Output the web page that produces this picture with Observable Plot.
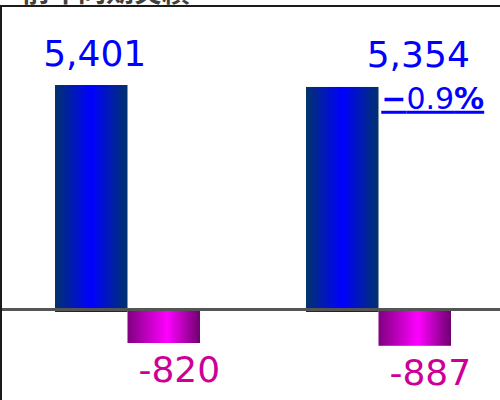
<!DOCTYPE html>
<html><head><meta charset="utf-8">
<script src="https://cdn.jsdelivr.net/npm/d3@7"></script>
<script src="https://cdn.jsdelivr.net/npm/@observablehq/plot@0.6"></script>
<style>
body{margin:0;background:#fff;font-family:"DejaVu Sans",sans-serif;}
#title{height:5px;overflow:hidden;position:relative;width:500px;}
#title span{position:absolute;left:22px;top:-24px;font:bold 28px "Noto Sans CJK JP";color:#404040;white-space:nowrap;line-height:1;}
#chart{border-top:2px solid #1a1a1a;border-left:2px solid #1a1a1a;width:498px;height:393px;overflow:hidden;}
#chart svg{display:block;max-width:none !important;}
</style></head><body>
<div id="title"><span>前年同期実績</span></div>
<div id="chart"></div>
<script>
const groups = ["前期", "当期"];
const values = [5401, 5354];
const changes = [-820, -887];
const kinds = ["value", "change"];

const table = groups.flatMap((g, i) => [
  {group: g, i, kind: "value", v: values[i], base: values[i]},
  {group: g, i, kind: "change", v: changes[i], base: values[i],
   pct: i > 0 ? values[i] / values[i - 1] - 1 : null}
]);

const fmt = d3.formatLocale({decimal: ".", thousands: ",", grouping: [3], currency: ["", ""], minus: "-"}).format(",");
const fmtPct = d3.format(".1%");

const chart = Plot.plot({
  width: 502, height: 393,
  marginTop: 0, marginBottom: 0, marginLeft: 0, marginRight: 0,
  facet: {data: table, x: "group", marginTop: 0, marginBottom: 0, marginLeft: 0, marginRight: 0},
  fx: {domain: groups, paddingInner: 0, paddingOuter: 0, axis: null, label: null},
  x: {domain: kinds, paddingInner: 0, paddingOuter: 0.731, axis: null, round: false},
  y: {domain: [-2194, 7282], axis: null},
  style: {background: "white", overflow: "hidden"},
  marks: [
    Plot.barY(table, {filter: d => d.kind === "value", x: "kind", y: "v", fill: "url(#gBlue)", insetBottom: -3}),
    Plot.barY(table, {filter: d => d.kind === "change", x: "kind", y: "v", fill: "url(#gMag)", insetTop: 1}),
    Plot.ruleY([0], {stroke: "#555", strokeWidth: 3}),
    Plot.text(table, {filter: d => d.kind === "value",
      x: d => d.i > 0 ? "change" : "value", y: "v", text: d => fmt(d.v),
      lineAnchor: "bottom", dy: -20, dx: 3, fill: "#0000ff", fontSize: 36, fontFamily: "DejaVu Sans"}),
    Plot.text(table, {filter: d => d.kind === "change",
      x: "kind", y: "v", text: d => fmt(d.v), dx: 15,
      lineAnchor: "top", dy: 13, fill: "#cc0099", fontSize: 36, fontFamily: "DejaVu Sans"}),
    Plot.text(table, {filter: d => d.kind === "change" && d.pct != null,
      x: "kind", y: "base", text: d => fmtPct(d.pct), textAnchor: "start", dx: -34,
      lineAnchor: "top", dy: 0, fill: "#0000ff", fontSize: 30, fontFamily: "DejaVu Sans"})
  ]
});

const svg = d3.select(chart.tagName.toLowerCase() === "svg" ? chart : chart.querySelector("svg"));
const defs = svg.insert("defs", ":first-child");
const gb = defs.append("linearGradient").attr("id", "gBlue").attr("x1", 0).attr("x2", 1).attr("y1", 0).attr("y2", 0);
[[0, "#00336b"], [0.5, "#0000ff"], [1, "#00336b"]].forEach(([o, c]) => gb.append("stop").attr("offset", o).attr("stop-color", c));
const gm = defs.append("linearGradient").attr("id", "gMag").attr("x1", 0).attr("x2", 1).attr("y1", 0).attr("y2", 0);
[[0, "#800080"], [0.55, "#ff00ff"], [1, "#6e006e"]].forEach(([o, c]) => gm.append("stop").attr("offset", o).attr("stop-color", c));

svg.selectAll("text").each(function() {
  const t = this.textContent;
  if (t.includes("%")) {
    const el = d3.select(this);
    el.style("text-decoration", "underline");
    const m = t.match(/^(\D*)([\d.]+)(%)$/);
    if (m) {
      el.text(null);
      el.append("tspan").attr("font-weight", "bold").text(m[1]);
      el.append("tspan").text(m[2]);
      el.append("tspan").attr("font-weight", "bold").text(m[3]);
    }
  }
});

document.getElementById("chart").appendChild(chart);
</script>
</body></html>
